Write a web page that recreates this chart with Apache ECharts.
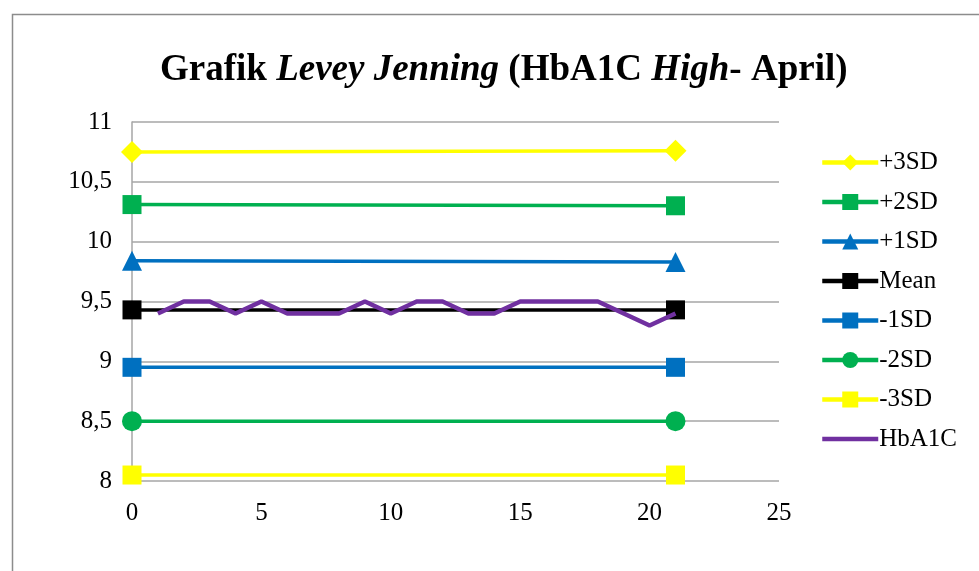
<!DOCTYPE html>
<html>
<head>
<meta charset="utf-8">
<script src="https://cdn.jsdelivr.net/npm/echarts@6/dist/echarts.min.js"></script>
<style>
  html, body { margin: 0; padding: 0; background: #fff; }
  #chart { width: 979px; height: 571px; }
</style>
</head>
<body>
<div id="chart"></div>
<script>
// control limits, read at day 0 and day 21
var limitDays = [0, 21];
var plus3SD = [10.75, 10.76];
var plus2SD = [10.31, 10.30];
var plus1SD = [9.84, 9.83];
var meanVal = [9.43, 9.43];
var minus1SD = [8.95, 8.95];
var minus2SD = [8.5, 8.5];
var minus3SD = [8.05, 8.05];

// daily HbA1C control results
var hbDays = [1, 2, 3, 4, 5, 6, 7, 8, 9, 10, 11, 12, 13, 14, 15, 16, 17, 18, 19, 20, 21];
var hbValues = [9.4, 9.5, 9.5, 9.4, 9.5, 9.4, 9.4, 9.4, 9.5, 9.4, 9.5, 9.5, 9.4, 9.4, 9.5, 9.5, 9.5, 9.5, 9.4, 9.3, 9.4];

var serif = "'Liberation Serif', 'DejaVu Serif', serif";

function pairs(xs, ys){
	var out = [];
	for(var i=0;i<xs.length;i++){
		out.push([xs[i], ys[i]]);
	}
	return out;
}

function limitSeries(name, values, color, symbol, size){
	return {
		name: name,
		type: 'line',
		data: pairs(limitDays, values),
		symbol: symbol,
		symbolSize: size,
		showAllSymbol: true,
		lineStyle: { color: color, width: 3.5 },
		itemStyle: { color: color },
		emphasis: { disabled: true },
		z: 2
	};
}

var myChart = echarts.init(document.getElementById("chart"));
var option = {
	animation: false,
	backgroundColor: '#fff',
	title: {
		left: 155,
		top: 47,
		text: '{b|Grafik }{bi|Levey Jenning}{b| (HbA1C }{bi|High}{b|- April)}',
		textStyle: {
			rich: {
				b: { fontFamily: serif, fontSize: 37, fontWeight: 'bold', color: '#000' },
				bi: { fontFamily: serif, fontSize: 37, fontWeight: 'bold', fontStyle: 'italic', color: '#000' }
			}
		}
	},
	graphic: [{
		type: 'rect',
		shape: { x: 12.5, y: 14.5, width: 1000, height: 600 },
		style: { fill: null, stroke: '#8c8c8c', lineWidth: 1.5 },
		silent: true
	}],
	legend: {
		orient: 'vertical',
		left: 815,
		top: 145,
		itemGap: 14.5,
		itemWidth: 56,
		itemHeight: 20,
		lineStyle: { width: 4.5 },
		textStyle: { fontFamily: serif, fontSize: 25, color: '#000', padding: [0, 0, 0, -4] },
		data: ['+3SD', '+2SD', '+1SD', 'Mean', '-1SD', '-2SD', '-3SD',
			{ name: 'HbA1C', itemStyle: { color: 'rgba(0,0,0,0)', borderWidth: 0 } }]
	},
	grid: { left: 132, right: 200, top: 122, bottom: 90 },
	xAxis: {
		type: 'value',
		min: 0,
		max: 25,
		interval: 5,
		axisLine: { show: false },
		axisTick: { show: false },
		splitLine: { show: false },
		axisLabel: { fontFamily: serif, fontSize: 25, color: '#000', margin: 20 }
	},
	yAxis: {
		type: 'value',
		min: 8,
		max: 11,
		interval: 0.5,
		axisLine: { show: true, lineStyle: { color: '#a6a6a6', width: 1.5 } },
		axisTick: { show: false },
		splitLine: { show: true, lineStyle: { color: '#a6a6a6', width: 1.5 } },
		axisLabel: {
			fontFamily: serif, fontSize: 25, color: '#000', margin: 20,
			formatter: function(v){ return String(v).replace('.', ','); }
		}
	},
	series: [
		limitSeries('+3SD', plus3SD, '#ffff00', 'diamond', 22),
		limitSeries('+2SD', plus2SD, '#00b050', 'rect', 19),
		limitSeries('+1SD', plus1SD, '#0070c0', 'triangle', 20),
		limitSeries('Mean', meanVal, '#000000', 'rect', 19),
		limitSeries('-1SD', minus1SD, '#0070c0', 'rect', 19),
		limitSeries('-2SD', minus2SD, '#00b050', 'circle', 20),
		limitSeries('-3SD', minus3SD, '#ffff00', 'rect', 19),
		{
			name: 'HbA1C',
			type: 'line',
			data: pairs(hbDays, hbValues),
			symbol: 'none',
			lineStyle: { color: '#7030a0', width: 4.5 },
			itemStyle: { color: '#7030a0' },
			emphasis: { disabled: true },
			z: 3
		}
	]
};
myChart.setOption(option);
</script>
</body>
</html>
